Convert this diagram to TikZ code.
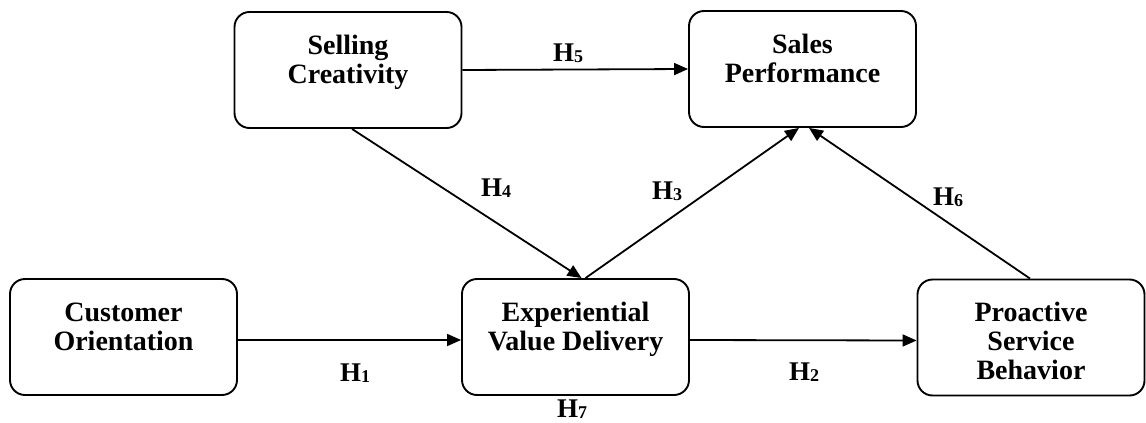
\documentclass[tikz,border=0pt]{standalone}
\usepackage{fontspec}
\setmainfont{Liberation Serif}
\usetikzlibrary{arrows.meta}
\newcommand\hyp[1]{H\raisebox{-1pt}{\fontsize{18pt}{18pt}\selectfont #1}}
\newcommand\boxtext[1]{\parbox[c][72pt][t]{220pt}{\centering\fontsize{28pt}{29pt}\selectfont\bfseries\strut #1}}
\tikzset{
  box/.style={draw, line width=1.9pt, rounded corners=15pt, minimum width=227pt, minimum height=116pt, inner sep=0pt},
  arr/.style={line width=1.8pt, -{Triangle[length=14pt,width=12pt]}},
  hlab/.style={font=\fontsize{27pt}{29pt}\selectfont\bfseries, inner sep=0pt}
}
\begin{document}
\begin{tikzpicture}[x=1pt,y=-1pt]
\useasboundingbox (0,0) rectangle (1146,423);
\node[box] (sc)  at (348,70)    {\boxtext{Selling\\Creativity}};
\node[box] (sp)  at (802.5,69)  {\boxtext{Sales\\Performance}};
\node[box] (co)  at (123.5,337) {\boxtext{Customer\\Orientation}};
\node[box] (evd) at (575.5,337) {\boxtext{Experiential\\Value Delivery}};
\node[box] (psb) at (1031,337.5){\boxtext{Proactive\\Service\\Behavior}};

\draw[arr] (sc.east) -- (sp.west);
\draw[arr] ([yshift=-3pt]co.east) -- ([yshift=-3pt]evd.west);
\draw[arr] ([yshift=-3pt]evd.east) -- ([yshift=-3pt]psb.west);
\draw[arr] ([xshift=4pt]sc.south) -- ([xshift=6pt]evd.north);
\draw[arr] ([xshift=10pt]evd.north) -- ([xshift=-3.5pt]sp.south);
\draw[arr] ([xshift=-1pt]psb.north) -- ([xshift=6.5pt]sp.south);

\node[hlab] (h5) at (568,53)  {\hyp{5}};
\node[hlab] (h4) at (496,188) {\hyp{4}};
\node[hlab] (h3) at (667,191) {\hyp{3}};
\node[hlab] (h6) at (948,197) {\hyp{6}};
\node[hlab] (h1) at (355,373) {\hyp{1}};
\node[hlab] (h2) at (804,372) {\hyp{2}};
\node[hlab] (h7) at (572,409) {\hyp{7}};
\end{tikzpicture}
\end{document}
